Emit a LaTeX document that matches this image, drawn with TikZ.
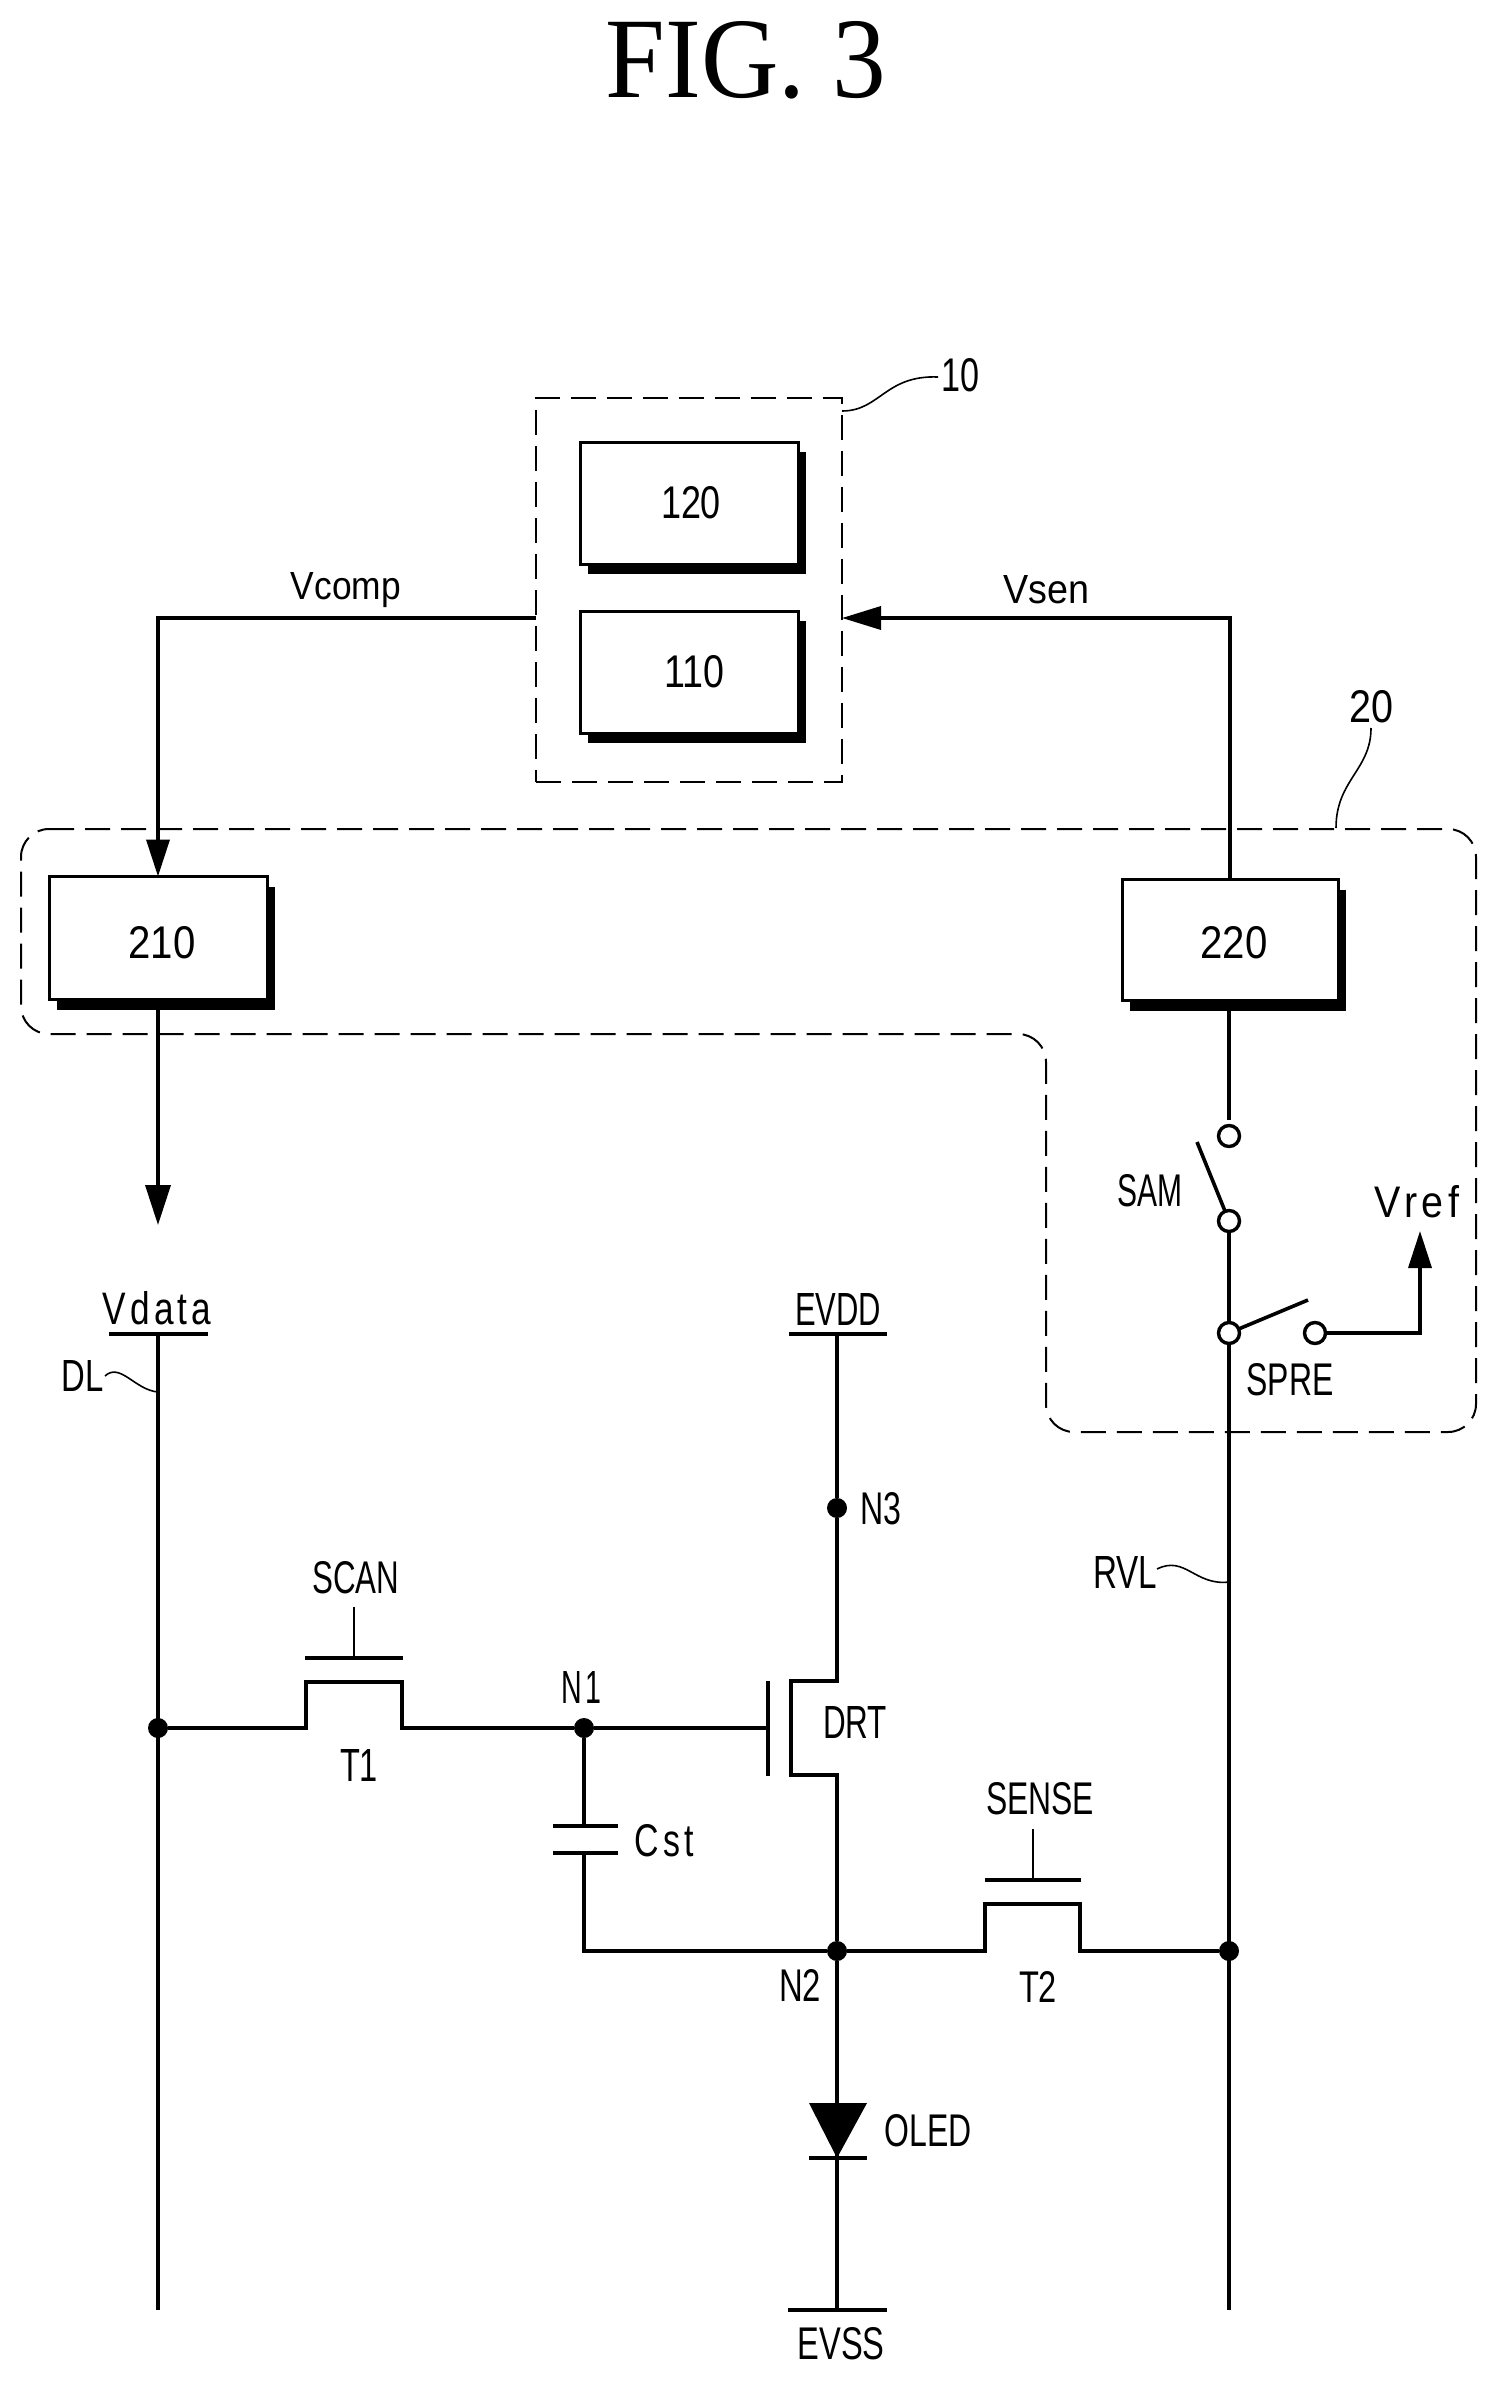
\documentclass[tikz,border=0pt]{standalone}
\usepackage{fontspec}
\usepackage{graphicx}
\setmainfont{Liberation Sans}
\newfontfamily\titlefont{Liberation Serif}
\usetikzlibrary{arrows.meta,shadows}
\newcommand\tl[6]{\node[txt] (#1) at (#2,#3) {\resizebox{#4pt}{#5pt}{#6}};}
\newcommand\spc[1]{{\addfontfeature{LetterSpace=12}#1}}
\tikzset{
  txt/.style={inner sep=0pt,outer sep=0pt,text=black},
  wire/.style={line width=3.6pt,line join=miter},
  thin wire/.style={line width=2.6pt},
  leader/.style={line width=1.6pt},
  dash box/.style={line width=2pt,dash pattern=on 25pt off 11pt},
  blockbox/.style={draw,fill=white,line width=3pt,inner sep=0pt,outer sep=0pt,minimum width=218pt,minimum height=122pt,
     general shadow={fill=black,shadow xshift=8pt,shadow yshift=-10pt}},
  terminal/.style={circle,draw,line width=3.4pt,fill=none,inner sep=0pt,minimum size=21pt,outer sep=0pt},
  junction/.style={circle,fill=black,inner sep=0pt,minimum size=20pt},
  tip v/.style={-{Triangle[length=37pt,width=23pt]}},
  tip big/.style={-{Triangle[length=40pt,width=25pt]}},
  tip h/.style={-{Triangle[length=39pt,width=23pt]}},
}
\begin{document}
\begin{tikzpicture}[x=1pt,y=-1pt]
\useasboundingbox (0,0) rectangle (1498,2381);
\fill[white] (0,0) rectangle (1498,2381);

% title
\node[txt] (title) at (746,60) {\resizebox{280pt}{76pt}{\titlefont FIG. 3}};

% dashed groups
\node[dash box,draw,inner sep=0pt,minimum width=306pt,minimum height=384pt] (g10) at (689,590) {};
\draw[dash box,rounded corners=28pt] (21,829) -- (1476,829) -- (1476,1432) -- (1046,1432) -- (1046,1034) -- (21,1034) -- cycle;
\coordinate (g10lead) at (842,411);
\coordinate (g20lead) at (1336,828);

% blocks
\node[blockbox] (b120) at (689,503) {\hspace*{4pt}\resizebox{60pt}{32pt}{120}};
\node[blockbox] (b110) at (689,672) {\hspace*{10pt}\resizebox{60pt}{32pt}{110}};
\node[blockbox,minimum height=123pt] (b210) at (158,938) {\hspace*{8pt}\raisebox{-4pt}[32pt][0pt]{\resizebox{67pt}{32pt}{210}}};
\node[blockbox,minimum height=121pt,minimum width=216pt] (b220) at (1230,940) {\hspace*{8pt}\raisebox{-2pt}[32pt][0pt]{\resizebox{67pt}{32pt}{220}}};

% numerals and leaders
\tl{l10}{960}{375}{38}{33}{10}
\tl{l20}{1371}{707}{44}{32}{20}
\coordinate (e10) at (938,377);
\coordinate (e20) at (1371,728);
\draw[leader] (g10lead) .. controls (880,411) and (885,375) .. (e10);
\draw[leader] (g20lead) .. controls (1336,780) and (1371,770) .. (e20);

% top signals
\coordinate (vcs) at (536,618);
\coordinate (vse) at (842,618);
\coordinate (a1) at (158,1225);
\draw[wire,tip v] (vcs) -| (b210.north);
\draw[wire,tip h] (b220.north) |- (vse);
\draw[wire,tip big] (b210.south) -- (a1);
\tl{vcomp}{346}{590}{110}{27}{Vcomp}
\tl{vsen}{1046}{590}{86}{28}{Vsen}

% switches
\node[terminal] (s1) at (1229,1136) {};
\node[terminal] (s2) at (1229,1221) {};
\node[terminal] (s3) at (1229,1333) {};
\node[terminal] (s4) at (1315,1333) {};
\coordinate (armA) at (1197,1142);
\coordinate (armB) at (1308,1300);
\coordinate (vrtip) at (1420,1231);
\coordinate (rvlb) at (1229,2310);
\draw[wire,shorten >=6pt] (b220.south -| s1) -- (s1.north);
\draw[wire] (s2) -- (armA);
\draw[wire] (s2) -- (s3);
\draw[wire] (s3) -- (armB);
\draw[wire,tip v] (s4.east) -| (vrtip);
\draw[wire] (s3) -- (rvlb);
\tl{sam}{1150}{1191}{65}{32}{SAM}
\tl{spre}{1290}{1380}{87}{32}{SPRE}
\tl{vref}{1417}{1202}{85}{32}{\spc{Vref}}

% rails
\coordinate (dlt) at (158,1334);
\coordinate (dlb) at (158,2310);
\coordinate (vdL) at (109,1334);
\coordinate (vdR) at (208,1334);
\coordinate (edt) at (837,1334);
\coordinate (edL) at (789,1334);
\coordinate (edR) at (887,1334);
\draw[wire] (vdL) -- (vdR);
\draw[wire] (edL) -- (edR);
\draw[wire] (dlt) -- (dlb);
\tl{vdata}{157}{1308}{109}{33}{\spc{Vdata}}
\tl{evdd}{838}{1309}{86}{32}{EVDD}
\tl{dl}{83}{1376}{42}{31}{DL}
\coordinate (dla) at (105,1376);
\coordinate (dlc) at (158,1392);
\draw[leader] (dla) .. controls (120,1362) and (135,1390) .. (dlc);
\tl{rvl}{1125}{1572}{64}{32}{RVL}
\coordinate (rva) at (1157,1569);
\coordinate (rvc) at (1229,1582);
\draw[leader] (rva) .. controls (1185,1555) and (1195,1586) .. (rvc);

% junctions
\node[junction] (jd) at (158,1728) {};
\node[junction] (n1) at (584,1728) {};
\node[junction] (n2) at (837,1951) {};
\node[junction] (n3) at (837,1508) {};
\node[junction] (jr) at (1229,1951) {};
\tl{ln1}{581}{1687}{40}{32}{\spc{N1}}
\tl{ln2}{800}{1985}{42}{32}{N2}
\tl{ln3}{881}{1509}{41}{32}{N3}

% T1
\coordinate (t1a) at (306,1728);
\coordinate (t1b) at (306,1682);
\coordinate (t1c) at (402,1682);
\coordinate (t1d) at (402,1728);
\coordinate (t1gl) at (305,1658);
\coordinate (t1gr) at (403,1658);
\coordinate (t1gm) at (354,1658);
\coordinate (t1gt) at (354,1607);
\draw[wire] (jd) -- (t1a) -- (t1b) -- (t1c) -- (t1d) -- (n1);
\draw[wire] (t1gl) -- (t1gr);
\draw[thin wire] (t1gm) -- (t1gt);
\tl{scan}{356}{1578}{87}{32}{SCAN}
\tl{t1}{359}{1765}{38}{32}{T1}

% DRT
\coordinate (dg) at (768,1728);
\coordinate (dgt) at (768,1681);
\coordinate (dgb) at (768,1776);
\coordinate (dca) at (837,1681);
\coordinate (dcb) at (791,1681);
\coordinate (dcc) at (791,1775);
\coordinate (dcd) at (837,1775);
\draw[wire] (n1) -- (dg);
\draw[wire] (dgt) -- (dgb);
\draw[wire] (edt) -- (n3) -- (dca) -- (dcb) -- (dcc) -- (dcd) -- (n2);
\tl{drt}{855}{1722}{64}{32}{DRT}

% Cst
\coordinate (c1) at (584,1826);
\coordinate (c2) at (584,1853);
\coordinate (c1l) at (553,1826);
\coordinate (c1r) at (618,1826);
\coordinate (c2l) at (553,1853);
\coordinate (c2r) at (618,1853);
\coordinate (cb) at (584,1951);
\draw[wire] (n1) -- (c1);
\draw[wire] (c1l) -- (c1r);
\draw[wire] (c2l) -- (c2r);
\draw[wire] (c2) -- (cb) -- (n2);
\tl{cst}{664}{1841}{59}{32}{\spc{Cst}}

% T2
\coordinate (t2a) at (985,1951);
\coordinate (t2b) at (985,1904);
\coordinate (t2c) at (1080,1904);
\coordinate (t2d) at (1080,1951);
\coordinate (t2gl) at (985,1880);
\coordinate (t2gr) at (1081,1880);
\coordinate (t2gm) at (1033,1880);
\coordinate (t2gt) at (1033,1829);
\draw[wire] (n2) -- (t2a) -- (t2b) -- (t2c) -- (t2d) -- (jr);
\draw[wire] (t2gl) -- (t2gr);
\draw[thin wire] (t2gm) -- (t2gt);
\tl{sense}{1040}{1799}{108}{32}{SENSE}
\tl{t2}{1038}{1987}{38}{31}{T2}

% OLED
\coordinate (ola) at (809,2103);
\coordinate (olb) at (867,2103);
\coordinate (olt) at (837,2158);
\coordinate (oll) at (809,2158);
\coordinate (olr) at (867,2158);
\coordinate (evb) at (837,2310);
\coordinate (evl) at (788,2310);
\coordinate (evr) at (887,2310);
\draw[wire] (n2) -- (evb);
\fill[black] (ola) -- (olb) -- (olt) -- cycle;
\draw[wire] (oll) -- (olr);
\draw[wire] (evl) -- (evr);
\tl{oled}{928}{2131}{87}{32}{OLED}
\tl{evss}{841}{2344}{87}{32}{EVSS}
\end{tikzpicture}
\end{document}
